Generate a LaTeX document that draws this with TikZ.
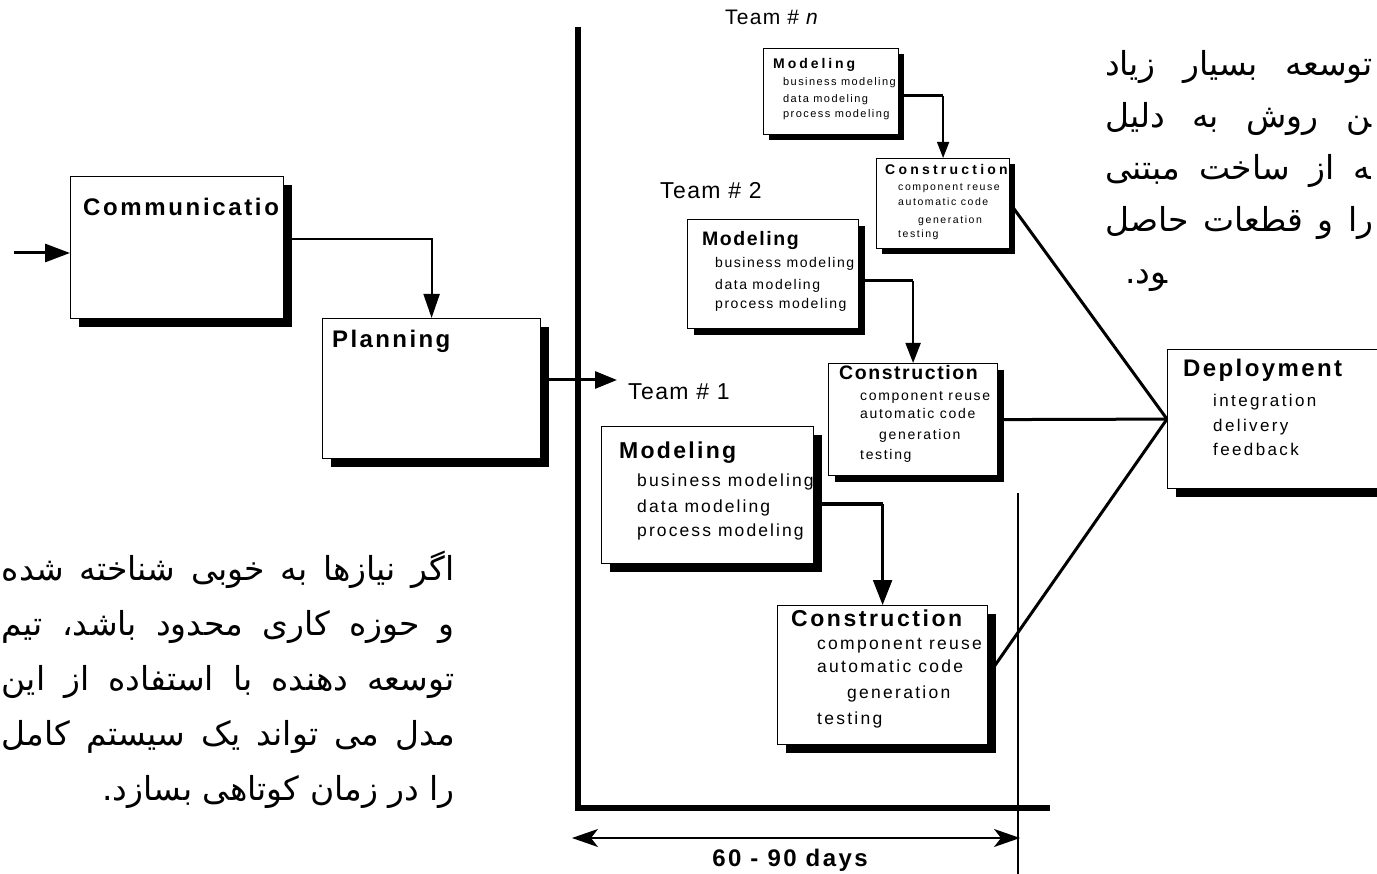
\documentclass[tikz,border=0pt]{standalone}
\usepackage{fontspec}
\setmainfont{Liberation Sans}
\newfontfamily\persianfont[Script=Arabic]{DejaVu Sans}
\TeXXeTstate=1
\usetikzlibrary{arrows.meta,shadows}

% bold, tracked heading font / tracked regular font: size, letter spacing
\newcommand{\hdf}[2]{\bfseries\fontsize{#1}{#1}\selectfont\addfontfeature{LetterSpace=#2}}
\newcommand{\rgf}[2]{\fontsize{#1}{#1}\selectfont\addfontfeature{LetterSpace=#2}}
\newcommand{\fafont}{\persianfont\fontsize{33}{33}\selectfont}

\begin{document}
\begin{tikzpicture}[x=1pt,y=-1pt,
  box/.style={draw, fill=white, line width=1.2pt, rectangle, inner sep=0pt, anchor=north west},
  shL/.style={drop shadow={shadow xshift=8pt, shadow yshift=-8pt, fill=black, opacity=1}},
  shM/.style={drop shadow={shadow xshift=6pt, shadow yshift=-6pt, fill=black, opacity=1}},
  shS/.style={drop shadow={shadow xshift=5pt, shadow yshift=-5pt, fill=black, opacity=1}},
  lbl/.style={anchor=mid west, inner sep=0pt},
  faline/.style={inner sep=0pt, font=\fafont},
  axisline/.style={line width=6pt},
  link/.style={line width=3pt},
]
\useasboundingbox (0,0) rectangle (1377,874);
\clip (0,0) rectangle (1377,874);
\fill[white] (0,0) rectangle (1377,874);

% time axes and the 60-90 days span
\draw[axisline] (578,27) |- (1050,808);
\draw[line width=1.2pt] (1018,493) -- (1018,874);
\coordinate (dimL) at (572,838);
\coordinate (dimR) at (1020,838);
\draw[line width=1.5pt, {Stealth[length=26pt,width=18pt,inset=7pt]}-{Stealth[length=26pt,width=18pt,inset=7pt]}] (dimL) -- (dimR);
\node[inner sep=0pt, font=\hdf{24}{10}] (days) at (790,860) {60 - 90 days};

% communication and planning
\node[box, shL, minimum width=213pt, minimum height=142pt] (comm) at (70,176) {};
\begin{scope}
  \clip (comm.south west) rectangle (comm.north east);
  \node[lbl, font=\hdf{24}{11}] (commT) at (83,213) {Communication};
\end{scope}
\node[box, shL, minimum width=218pt, minimum height=140pt] (plan) at (322,318) {};
\node[lbl, font=\hdf{24}{10}] (planT) at (332,345) {Planning};

% team labels
\node[lbl, font=\rgf{23}{6}] (team1) at (628,397) {Team \# 1};
\node[lbl, font=\rgf{23}{6}] (team2) at (660,196) {Team \# 2};
\node[lbl, font=\rgf{21}{6}] (teamn) at (725,22) {Team \# \textit{n}};

% team n
\node[box, shS, minimum width=135pt, minimum height=86pt] (tnm) at (763,48) {};
\begin{scope}
  \clip (tnm.south west) rectangle (tnm.north east);
  \node[lbl, font=\hdf{14}{21}] (tnmH) at (773,66) {Modeling};
  \node[lbl, font=\rgf{11}{13}] (tnm1) at (783,83) {business modeling};
  \node[lbl, font=\rgf{11}{13}] (tnm2) at (783,100) {data modeling};
  \node[lbl, font=\rgf{11}{13}] (tnm3) at (783,115) {process modeling};
\end{scope}
\node[box, shS, minimum width=133pt, minimum height=90pt] (tnc) at (876,158) {};
\begin{scope}
  \clip (tnc.south west) rectangle (tnc.north east);
  \node[lbl, font=\hdf{14}{23}] (tncH) at (885,172) {Construction};
  \node[lbl, font=\rgf{10.5}{15}] (tnc1) at (898,188) {component reuse};
  \node[lbl, font=\rgf{10.5}{15}] (tnc2) at (898,203) {automatic code};
  \node[lbl, font=\rgf{10.5}{15}] (tnc3) at (918,221) {generation};
  \node[lbl, font=\rgf{10.5}{15}] (tnc4) at (898,235) {testing};
\end{scope}

% team 2
\node[box, shM, minimum width=171pt, minimum height=109pt] (t2m) at (687,219) {};
\begin{scope}
  \clip (t2m.south west) rectangle (t2m.north east);
  \node[lbl, font=\hdf{19.5}{8}] (t2mH) at (702,243) {Modeling};
  \node[lbl, font=\rgf{14}{11}] (t2m1) at (715,265) {business modeling};
  \node[lbl, font=\rgf{14}{11}] (t2m2) at (715,287) {data modeling};
  \node[lbl, font=\rgf{14}{11}] (t2m3) at (715,306) {process modeling};
\end{scope}
\node[box, shM, minimum width=169pt, minimum height=112pt] (t2c) at (828,363) {};
\begin{scope}
  \clip (t2c.south west) rectangle (t2c.north east);
  \node[lbl, font=\hdf{19.5}{8}] (t2cH) at (839,377) {Construction};
  \node[lbl, font=\rgf{14}{12}] (t2c1) at (860,398) {component reuse};
  \node[lbl, font=\rgf{14}{12}] (t2c2) at (860,416) {automatic code};
  \node[lbl, font=\rgf{14}{12}] (t2c3) at (879,437) {generation};
  \node[lbl, font=\rgf{14}{12}] (t2c4) at (860,457) {testing};
\end{scope}

% team 1
\node[box, shL, minimum width=212pt, minimum height=137pt] (t1m) at (601,426) {};
\begin{scope}
  \clip (t1m.south west) rectangle (t1m.north east);
  \node[lbl, font=\hdf{23}{10}] (t1mH) at (619,456) {Modeling};
  \node[lbl, font=\rgf{17.5}{12}] (t1m1) at (637,484) {business modeling};
  \node[lbl, font=\rgf{17.5}{12}] (t1m2) at (637,510) {data modeling};
  \node[lbl, font=\rgf{17.5}{12}] (t1m3) at (637,534) {process modeling};
\end{scope}
\node[box, shL, minimum width=210pt, minimum height=139pt] (t1c) at (777,605) {};
\begin{scope}
  \clip (t1c.south west) rectangle (t1c.north east);
  \node[lbl, font=\hdf{23}{11}] (t1cH) at (791,624) {Construction};
  \node[lbl, font=\rgf{17.5}{13}] (t1c1) at (817,647) {component reuse};
  \node[lbl, font=\rgf{17.5}{13}] (t1c2) at (817,670) {automatic code};
  \node[lbl, font=\rgf{17.5}{13}] (t1c3) at (847,696) {generation};
  \node[lbl, font=\rgf{17.5}{13}] (t1c4) at (817,722) {testing};
\end{scope}

% deployment
\node[box, shL, minimum width=260pt, minimum height=139pt] (dep) at (1167,349) {};
\node[lbl, font=\hdf{24}{10}] (depH) at (1183,374) {Deployment};
\node[lbl, font=\rgf{17}{14}] (dep1) at (1213,404) {integration};
\node[lbl, font=\rgf{17}{14}] (dep2) at (1213,429) {delivery};
\node[lbl, font=\rgf{17}{14}] (dep3) at (1213,453) {feedback};

% connectors
\coordinate (inA) at (14,253);
\draw[line width=3pt, -{Triangle[length=25pt,width=18pt]}] (inA) -- (comm.west |- inA);
\draw[line width=2pt, -{Triangle[length=24pt,width=16pt]}] ([yshift=9pt]comm.east) -| (plan.north);
\coordinate (t1in) at (617,380);
\draw[line width=3pt, -{Triangle[length=22pt,width=17pt]}] (plan.east |- t1in) -- (t1in);

\draw[line width=2.5pt] ([yshift=-4pt]tnm.east) -- ([yshift=-4pt]tnm.east -| tnc.north);
\draw[line width=1.5pt, -{Triangle[length=16pt,width=12pt]}] ([yshift=-4pt]tnm.east -| tnc.north) -- (tnc.north);
\draw[line width=3pt] ([yshift=-6.5pt]t2m.east) -- ([yshift=-6.5pt]t2m.east -| t2c.north);
\draw[line width=2pt, -{Triangle[length=20pt,width=15pt]}] ([yshift=-6.5pt]t2m.east -| t2c.north) -- (t2c.north);
\draw[line width=4pt] ([yshift=-8.5pt]t1m.east) -- ([yshift=-8.5pt]t1m.east -| t1c.north);
\draw[line width=2.3pt, -{Triangle[length=25pt,width=19pt]}] ([yshift=-8.5pt]t1m.east -| t1c.north) -- (t1c.north);

\draw[link] (tnc.east) -- (dep.west);
\draw[link] (t2c.east) -- (dep.west);
\draw[link] (t1c.east) -- (dep.west);

% persian notes
\node[faline, anchor=base east] (fa1) at (455,580) {\hbox to 453pt{\beginR اگر نیازها به خوبی شناخته شده\endR}};
\node[faline, anchor=base east] (fa2) at (455,635) {\hbox to 453pt{\beginR و حوزه کاری محدود باشد، تیم\endR}};
\node[faline, anchor=base east] (fa3) at (455,690) {\hbox to 453pt{\beginR توسعه دهنده با استفاده از این\endR}};
\node[faline, anchor=base east] (fa4) at (455,745) {\hbox to 453pt{\beginR مدل می تواند یک سیستم کامل\endR}};
\node[faline, anchor=base east] (fa5) at (455,800) {\beginR را در زمان کوتاهی بسازد.\endR};

\node[faline, anchor=base west] (fb1) at (1105,76) {\hbox to 268pt{\beginR توسعه بسیار زیاد\endR}};
\node[faline, anchor=base west] (fb2) at (1105,128) {\hbox to 266pt{\beginR ^^^^200dن روش به دلیل\endR}};
\node[faline, anchor=base west] (fb3) at (1105,180) {\hbox to 266pt{\beginR ^^^^200dه از ساخت مبتنی\endR}};
\node[faline, anchor=base west] (fb4) at (1105,232) {\hbox to 268pt{\beginR را و قطعات حاصل\endR}};
\node[faline, anchor=base west] (fb5) at (1125,284) {\beginR ^^^^200dود.\endR};
\end{tikzpicture}
\end{document}
